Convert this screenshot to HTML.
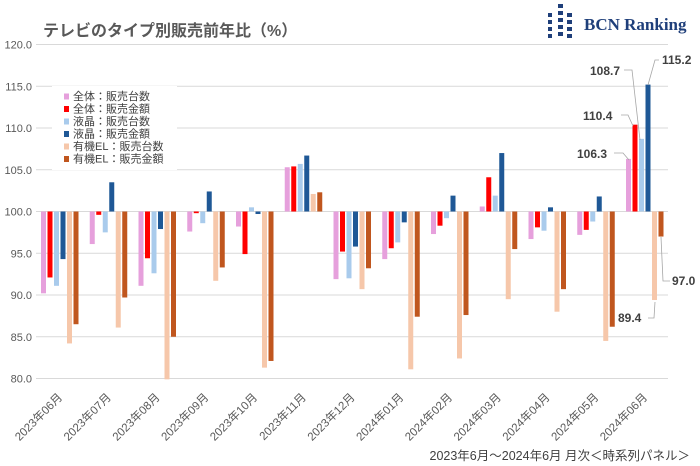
<!DOCTYPE html>
<html><head><meta charset="utf-8"><style>
html,body{margin:0;padding:0;background:#fff;}
svg{display:block;font-family:"Liberation Sans","Noto Sans CJK JP",sans-serif;}
</style></head><body>
<svg id="c" width="700" height="466" viewBox="0 0 700 466" xmlns="http://www.w3.org/2000/svg">
<rect width="700" height="466" fill="#fff"/>
<text x="43" y="36" font-size="16" font-weight="bold" fill="#595959">テレビのタイプ別販売前年比（%）</text>
<g fill="#1f3f7a">
<rect x="548" y="13" width="4" height="4"/><rect x="548" y="20" width="4" height="4"/><rect x="548" y="27" width="4" height="4"/>
<rect x="558" y="4" width="5" height="4"/><rect x="558" y="11" width="5" height="4"/><rect x="558" y="18" width="5" height="4"/><rect x="558" y="25" width="5" height="4"/><rect x="558" y="32" width="5" height="4"/><rect x="548" y="34" width="4" height="4"/>
<rect x="567" y="13" width="5" height="4"/><rect x="567" y="20" width="5" height="4"/><rect x="567" y="27" width="5" height="4"/><rect x="567" y="34" width="5" height="4"/>
</g>
<text x="584" y="30" font-family="Liberation Serif,serif" font-size="17" font-weight="bold" fill="#1f3f7a">BCN Ranking</text>
<g id="grid"></g>
<g id="bars"></g>
<g id="xl"></g>
<rect x="52" y="86" width="125" height="84" fill="#fff"/>
<g id="leg" font-size="11" fill="#404040"></g>
<g font-size="12" font-weight="bold" fill="#404040">
<text x="662" y="64">115.2</text>
<text x="590" y="75">108.7</text>
<text x="583" y="120">110.4</text>
<text x="577" y="158">106.3</text>
<text x="672" y="285">97.0</text>
<text x="618" y="322">89.4</text>
</g>
<g stroke="#a6a6a6" fill="none" stroke-width="0.8">
<polyline points="659,60 655,60 648,85"/>
<polyline points="624,70 632,70 640,140"/>
<polyline points="621,115 628,115 633,126"/>
<polyline points="614,153 623,153 629,160"/>
<polyline points="670,281 663,281 661,237"/>
<polyline points="648,318 654,318 655,302"/>
</g>
<text x="690" y="460" font-size="12.5" fill="#404040" text-anchor="end">2023年6月～2024年6月 月次＜時系列パネル＞</text>
</svg>
<script>
var NS="http://www.w3.org/2000/svg";
function el(p,t,a,txt){var e=document.createElementNS(NS,t);for(var k in a)e.setAttribute(k,a[k]);if(txt)e.textContent=txt;document.getElementById(p).appendChild(e);}
function Y(v){return 211.5-(v-100)*8.35;}
for(var v=80;v<=120;v+=5){el("grid","line",{x1:36,x2:668,y1:Y(v),y2:Y(v),stroke:"#d9d9d9","stroke-width":1});
el("grid","text",{x:32,y:Y(v)+4,"font-size":11,fill:"#595959","text-anchor":"end"},v.toFixed(1));}
var cols=["#e6a0dc","#ff0000","#a9cbec","#1f5896","#f6c7aa","#c0561e"];
var d=[[90.2,92.1,91.1,94.3,84.2,86.5],[96.1,99.6,97.5,103.5,86.1,89.7],[91.1,94.4,92.6,97.9,79.9,85.0],[97.6,99.8,98.6,102.4,91.7,93.3],[98.2,94.9,100.5,99.7,81.3,82.1],[105.3,105.4,105.7,106.7,102.1,102.3],[91.9,95.2,92.0,95.8,90.7,93.2],[94.3,95.6,96.3,98.7,81.1,87.4],[97.3,98.3,99.2,101.9,82.4,87.6],[100.6,104.1,101.9,107.0,89.5,95.5],[96.7,98.1,97.7,100.5,88.0,90.7],[97.2,97.8,98.8,101.8,84.5,86.2],[106.3,110.4,108.7,115.2,89.4,97.0]];
var labs=["2023年06月","2023年07月","2023年08月","2023年09月","2023年10月","2023年11月","2023年12月","2024年01月","2024年02月","2024年03月","2024年04月","2024年05月","2024年06月"];
for(var g=0;g<13;g++){var x0=41+g*48.75;
for(var s=0;s<6;s++){var v=d[g][s],y1=Y(v),x=x0+s*6.5;
el("bars","rect",{x:x,y:Math.min(y1,211.5),width:5,height:Math.max(Math.abs(y1-211.5),0.8),fill:cols[s]});}
var cx=x0+22;
el("xl","text",{x:0,y:0,"font-size":11.5,fill:"#595959","text-anchor":"end",transform:"translate("+(cx)+",398) rotate(-45)"},labs[g]);}
var ln=["全体：販売台数","全体：販売金額","液晶：販売台数","液晶：販売金額","有機EL：販売台数","有機EL：販売金額"];
for(var i=0;i<6;i++){var yy=94+i*12.5;el("leg","rect",{x:64,y:yy-0.5,width:5,height:6,fill:cols[i]});
el("leg","text",{x:73,y:yy+6},ln[i]);}
</script>
</body></html>
